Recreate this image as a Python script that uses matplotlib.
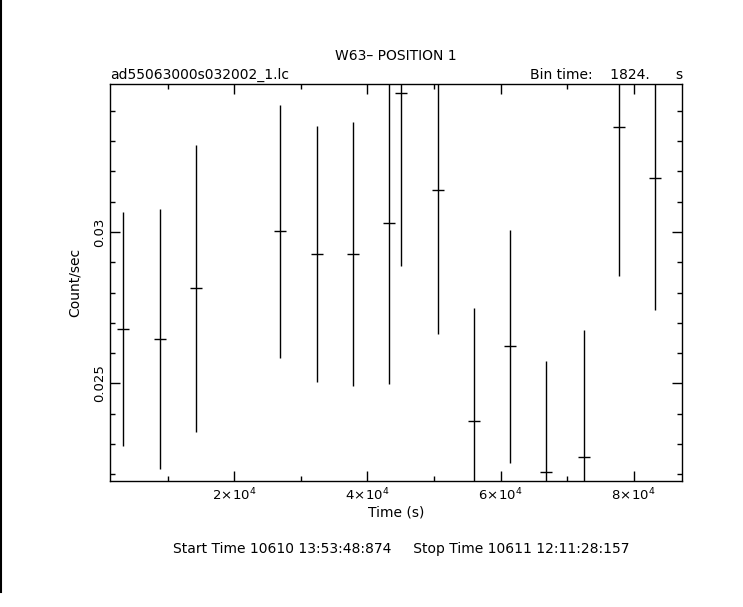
import matplotlib
matplotlib.use("Agg")
import matplotlib.pyplot as plt
from matplotlib.ticker import MultipleLocator, FixedLocator, FuncFormatter
from matplotlib.lines import Line2D

# ---- data ----
time_s = [3344, 8901, 14308, 26924, 32481, 37888, 43294, 45097, 50654,
          56061, 61467, 66874, 72491, 77838, 83200]
rate = [0.02679, 0.02647, 0.02814, 0.03002, 0.02927, 0.02927, 0.03029,
        0.03458, 0.03139, 0.02375, 0.02622, 0.02206, 0.02256, 0.03346, 0.03177]
rate_err = [0.00387, 0.00430, 0.00474, 0.00417, 0.00424, 0.00437, 0.00530,
            0.00570, 0.00475, 0.00374, 0.00384, 0.00367, 0.00421, 0.00490, 0.00434]
half_bin = 912.0
xlim = (1347, 87180)
ylim = (0.021773, 0.034890)
title = "W63\u2013 POSITION 1"
file_label = "ad55063000s032002_1.lc"
bin_label = "Bin time:    1824.      s"
footer = "Start Time 10610 13:53:48:874     Stop Time 10611 12:11:28:157"

plt.rcParams['font.family'] = ['DejaVu Sans']
fig = plt.figure(figsize=(7.43, 6.07), dpi=100)
fig.patch.set_facecolor('white')
W, H = 743, 607
ax = fig.add_axes([110 / W, 1 - 481 / H, (681.5 - 110) / W, (481 - 84) / H])

ax.errorbar(time_s, rate, yerr=rate_err, xerr=half_bin, fmt='none',
            ecolor='black', elinewidth=1.0, capsize=0)
ax.set_xlim(*xlim)
ax.set_ylim(*ylim)

ax.xaxis.set_major_locator(MultipleLocator(20000))
ax.xaxis.set_minor_locator(MultipleLocator(10000))
ax.yaxis.set_major_locator(FixedLocator([0.025, 0.03]))
ax.yaxis.set_minor_locator(MultipleLocator(0.001))

def xfmt(v, pos):
    return r"$%d\!\times\!10^{4}$" % int(round(v / 1e4))
ax.xaxis.set_major_formatter(FuncFormatter(xfmt))
ax.yaxis.set_major_formatter(FuncFormatter(lambda v, p: "%g" % v))

ax.tick_params(which='both', direction='in', top=True, right=True,
               labelsize=9.5, width=1, color='black')
ax.tick_params(which='major', length=7)
ax.tick_params(which='minor', length=3.5)
for lab in ax.get_yticklabels():
    lab.set_rotation(90)
    lab.set_va('center')
ax.tick_params(axis='y', pad=3)
ax.tick_params(axis='x', pad=4)
for s in ax.spines.values():
    s.set_linewidth(1.0)

ax.set_xlabel("Time (s)", fontsize=10, labelpad=2)
ax.set_ylabel("Count/sec", fontsize=10, labelpad=8)

fig.text(396 / W, 1 - 56 / H, title, ha='center', va='center', fontsize=10)
fig.text(110 / W, 1 - 75 / H, file_label, ha='left', va='center', fontsize=10)
fig.text(683 / W, 1 - 75 / H, bin_label, ha='right', va='center', fontsize=10)
fig.text(401 / W, 1 - 549 / H, footer, ha='center', va='center', fontsize=10)

fig.add_artist(Line2D([0.5 / W, 0.5 / W], [1 - 592 / H, 1.0],
                      transform=fig.transFigure, color='black', linewidth=1.5))

fig.savefig("out.png", dpi=100, facecolor='white')
